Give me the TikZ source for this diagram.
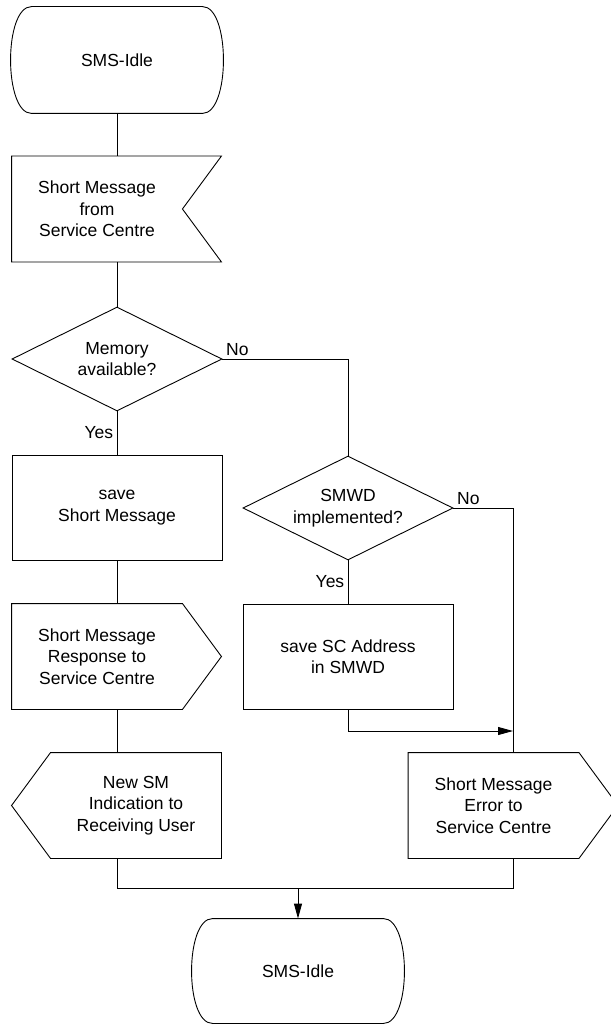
\documentclass[tikz,border=0pt]{standalone}
\usepackage{fontspec}
\setmainfont{Liberation Sans}
\usetikzlibrary{arrows.meta,shapes.geometric}
\tikzset{every node/.append style={font=\fontsize{17.5}{21.5}\selectfont, align=center}}
\tikzset{
  terminal/.style={shape = rectangle, minimum width=170pt, minimum height=106pt},
  task/.style={draw, shape = rectangle, minimum width=210pt, minimum height=105pt},
  decision/.style={draw, shape = diamond, shape aspect=2, minimum width=210pt,
    minimum height=104pt, inner sep=0pt},
  sigbox/.style={shape = rectangle, minimum width=170pt, minimum height=105pt},
  flow/.style={-{Triangle[length=15pt,width=8pt]}}
}

\begin{document}
\begin{tikzpicture}[x=1pt, y=-1pt, line width=0.9pt]
    \useasboundingbox (0,0) rectangle (610,1024);

    \node[terminal] (idle) at (117,60) {SMS-Idle};
    \node[sigbox] (recv) at (97,209) {Short Message\\from\\Service Centre};
    \node[decision] (mem) at (117,359) {Memory\\available?};
    \node[task] (save) at (117,507.5) {save\\Short Message};
    \node[decision] (smwd) at (348,508) {SMWD\\implemented?};
    \node[sigbox] (resp) at (97,656.5) {Short Message\\Response to\\Service Centre};
    \node[task] (scaddr) at (348,656.5) {save SC Address\\in SMWD};
    \node[sigbox] (newsm) at (136,805.5) {New SM\\Indication to\\Receiving User};
    \node[sigbox] (err) at (493.5,805.5) {Short Message\\Error to\\Service Centre};
    \node[terminal, minimum height=104pt] (idle2) at (298,971) {SMS-Idle};

    \coordinate (rcol) at (513,508);
    \coordinate (rjoin) at (513,731);
    \coordinate (merge) at (298,888);

    \draw (idle.north west) -- (idle.north east) .. controls +(28,0) and +(28,0) .. (idle.south east)
      -- (idle.south west) .. controls +(-28,0) and +(-28,0) .. (idle.north west) -- cycle;
    \draw (idle2.north west) -- (idle2.north east) .. controls +(28,0) and +(28,0) .. (idle2.south east)
      -- (idle2.south west) .. controls +(-28,0) and +(-28,0) .. (idle2.north west) -- cycle;
    \draw (recv.north west) -- ([xshift=39pt]recv.north east) -- (recv.east)
      -- ([xshift=39pt]recv.south east) -- (recv.south west) -- cycle;
    \draw (resp.north west) -- (resp.north east) -- ([xshift=39pt]resp.east)
      -- (resp.south east) -- (resp.south west) -- cycle;
    \draw (newsm.north east) -- (newsm.north west) -- ([xshift=-39pt]newsm.west)
      -- (newsm.south west) -- (newsm.south east) -- cycle;
    \draw (err.north west) -- (err.north east) -- ([xshift=39pt]err.east)
      -- (err.south east) -- (err.south west) -- cycle;

    \draw (idle.south) -- (idle.south |- recv.north);
    \draw (idle.south |- recv.south) -- (mem.north);
    \draw (mem.south) -- node[left]{Yes} (save.north);
    \draw (mem.east) node[above right]{No} -| (smwd.north);
    \draw (smwd.south) -- node[left]{Yes} (scaddr.north);
    \draw (smwd.east) node[above right]{No} -- (rcol) -- (rcol |- err.north);
    \draw[flow] (scaddr.south) |- (rjoin);
    \draw (save.south) -- (save.south |- resp.north);
    \draw (save.south |- resp.south) -- (save.south |- newsm.north);
    \draw (save.south |- newsm.south) |- (merge);
    \draw (rcol |- err.south) |- (merge);
    \draw[flow] (merge) -- (idle2.north);
  \end{tikzpicture}
\end{document}
